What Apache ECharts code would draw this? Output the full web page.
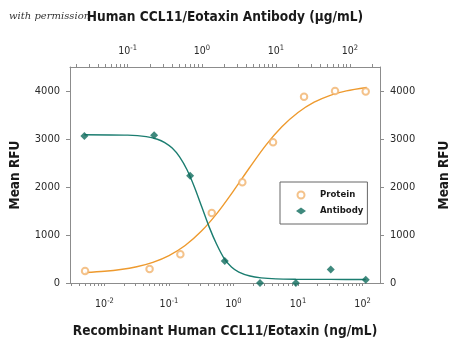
<!DOCTYPE html>
<html>
<head>
<meta charset="utf-8">
<script src="https://cdn.jsdelivr.net/npm/echarts@6/dist/echarts.min.js"></script>
<style>
  html, body { margin: 0; padding: 0; background: #ffffff; }
  #chart { width: 450px; height: 347px; }
</style>
</head>
<body>
<div id="chart"></div>
<script>
// Recombinant protein dilution series (ng/mL) and mean RFU
const proteinConc = [0.005, 0.05, 0.15, 0.46, 1.37, 4.1, 12.4, 37.5, 112];
const proteinRFU  = [250, 290, 600, 1460, 2100, 2930, 3880, 4000, 3990];

// Neutralizing antibody dilution series (µg/mL) and mean RFU
const antibodyConc = [0.026, 0.227, 0.695, 2.04, 6.1, 18.6, 55, 163];
const antibodyRFU  = [3065, 3080, 2235, 460, 0, 0, 280, 70];

// Fitted dose-response curves, sampled along each fit
const proteinFitConc = [0.005, 0.01, 0.0178, 0.0316, 0.0562, 0.1, 0.178, 0.316, 0.562, 1,
                        1.78, 3.16, 5.62, 10, 17.8, 31.6, 56.2, 116];
const proteinFitRFU  = [218, 244, 280, 339, 431, 572, 781, 1076, 1461, 1919,
                        2406, 2868, 3254, 3553, 3767, 3910, 4003, 4073];
const antibodyFitConc = [0.026, 0.1, 0.178, 0.251, 0.316, 0.398, 0.501, 0.631, 0.794, 1,
                         1.259, 1.585, 1.995, 2.512, 3.162, 4.467, 6.31, 10, 18.6, 55, 163];
const antibodyFitRFU  = [3090, 3080, 3049, 2994, 2925, 2810, 2628, 2359, 2001, 1582,
                         1164, 806, 515, 335, 228, 145, 106, 85, 78, 75, 72];

// Axis ranges and tick labels
const bottomRange = [0.00292, 186.6];
const topRange = [0.01663, 254];
const decadeExponents = [-2, -1, 0, 1, 2];
const rfuTicks = [0, 1000, 2000, 3000, 4000];
const rfuMax = 4500;

const FONT = "'DejaVu Sans Condensed', 'Liberation Sans Narrow', sans-serif";
const AXIS_GREY = '#8c8c8c';
const ORANGE_LINE = '#ee9a2e';
const ORANGE_MARK = '#f1b36d';
const TEAL_LINE = '#1b7d70';
const TEAL_MARK = '#0f6b5c';

const log10 = Math.log10;

// ticks at 1..9 × 10^n inside a range (log space)
function logTicks(range) {
  const lo = log10(range[0]), hi = log10(range[1]);
  const out = [];
  for (let e = Math.floor(lo); e <= Math.ceil(hi); e++) {
    for (let m = 1; m <= 9; m++) {
      const v = log10(m) + e;
      if (v >= lo - 1e-9 && v <= hi + 1e-9) out.push(v);
    }
  }
  return out;
}
function decadeLabels(range) {
  const lo = log10(range[0]), hi = log10(range[1]);
  return decadeExponents.filter(e => e >= lo && e <= hi);
}
function pairs(xs, ys) {
  return xs.map((x, i) => [log10(x), ys[i]]);
}

const richLabel = {
  b: { fontFamily: FONT, fontSize: 10.5, color: '#2a2a2a', lineHeight: 14 },
  s: { fontFamily: FONT, fontSize: 7.5, color: '#2a2a2a', lineHeight: 8, verticalAlign: 'top' }
};
const powerFormatter = v => '{b|10}{s|' + Math.round(v) + '}';

function logXAxis(range, position, name, labelMargin, nameGap) {
  return {
    type: 'value',
    position: position,
    min: log10(range[0]),
    max: log10(range[1]),
    axisLine: { show: true, onZero: false, lineStyle: { color: AXIS_GREY, width: 1 } },
    axisTick: { show: true, inside: false, length: 3, customValues: logTicks(range),
                lineStyle: { color: AXIS_GREY } },
    axisLabel: { show: true, customValues: decadeLabels(range), formatter: powerFormatter,
                 rich: richLabel, margin: labelMargin },
    splitLine: { show: false },
    name: name,
    nameLocation: 'middle',
    nameGap: nameGap,
    nameTextStyle: { fontFamily: FONT, fontWeight: 'bold', fontSize: 13.6, color: '#1a1a1a' }
  };
}

function rfuAxis(position, nameGap) {
  return {
    type: 'value',
    position: position,
    min: 0,
    max: rfuMax,
    axisLine: { show: true, onZero: false, lineStyle: { color: AXIS_GREY, width: 1 } },
    axisTick: { show: true, inside: false, length: 4, customValues: rfuTicks,
                lineStyle: { color: AXIS_GREY } },
    axisLabel: { show: true, customValues: rfuTicks, margin: 10, formatter: v => String(v),
                 fontFamily: FONT, fontSize: 11, color: '#2a2a2a' },
    splitLine: { show: false },
    name: 'Mean RFU',
    nameLocation: 'middle',
    nameGap: nameGap,
    nameTextStyle: { fontFamily: FONT, fontWeight: 'bold', fontSize: 13.5, color: '#1a1a1a' }
  };
}

const chart = echarts.init(document.getElementById('chart'), null, { renderer: 'canvas' });
chart.setOption({
  animation: false,
  backgroundColor: '#ffffff',
  grid: { left: 70, right: 70, top: 67, bottom: 64, containLabel: false, outerBoundsMode: 'none' },
  xAxis: [
    logXAxis(bottomRange, 'bottom', 'Recombinant Human CCL11/Eotaxin (ng/mL)', 14, 41),
    logXAxis(topRange, 'top', 'Human CCL11/Eotaxin Antibody (\u03bcg/mL)', 9, 43)
  ],
  yAxis: [
    rfuAxis('left', 48),
    rfuAxis('right', 57)
  ],
  legend: {
    orient: 'vertical',
    left: 280,
    top: 182,
    data: ['Protein', 'Antibody'],
    itemWidth: 10,
    itemHeight: 7,
    itemGap: 6,
    padding: [8, 4, 8, 16],
    borderColor: '#666',
    borderWidth: 1,
    textStyle: { fontFamily: FONT, fontWeight: 'bold', fontSize: 9.5, color: '#1a1a1a',
                 padding: [0, 0, 0, 9] }
  },
  graphic: [{
    type: 'text',
    left: 9,
    top: 11,
    style: { text: 'with permission', fontFamily: "'DejaVu Serif', serif", fontStyle: 'italic',
             fontSize: 10, fill: '#333' }
  }],
  series: [
    {
      name: 'Protein fit', type: 'line', xAxisIndex: 0, yAxisIndex: 0,
      data: pairs(proteinFitConc, proteinFitRFU),
      smooth: 0.3, showSymbol: false, silent: true,
      lineStyle: { color: ORANGE_LINE, width: 1.4 }, z: 2
    },
    {
      name: 'Antibody fit', type: 'line', xAxisIndex: 1, yAxisIndex: 0,
      data: pairs(antibodyFitConc, antibodyFitRFU),
      smooth: 0.3, showSymbol: false, silent: true,
      lineStyle: { color: TEAL_LINE, width: 1.4 }, z: 2
    },
    {
      name: 'Protein', type: 'scatter', xAxisIndex: 0, yAxisIndex: 0,
      data: pairs(proteinConc, proteinRFU),
      symbol: 'emptyCircle', symbolSize: 6.5, clip: false,
      itemStyle: { color: ORANGE_MARK, borderColor: ORANGE_MARK, borderWidth: 1 }, z: 3
    },
    {
      name: 'Antibody', type: 'scatter', xAxisIndex: 1, yAxisIndex: 0,
      data: pairs(antibodyConc, antibodyRFU),
      symbol: 'diamond', symbolSize: 8, clip: false,
      itemStyle: { color: TEAL_MARK }, z: 3
    }
  ]
});
</script>
</body>
</html>
